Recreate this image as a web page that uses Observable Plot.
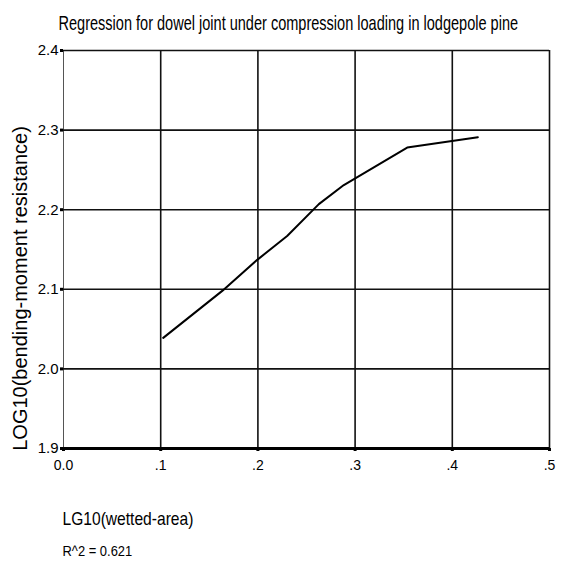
<!DOCTYPE html>
<html>
<head>
<meta charset="utf-8">
<script src="https://cdn.jsdelivr.net/npm/d3@7"></script>
<script src="https://cdn.jsdelivr.net/npm/@observablehq/plot@0.6"></script>
<style>
  html, body { margin: 0; padding: 0; background: white; }
</style>
</head>
<body>
<div id="chart"></div>
<script>
const titleText = "Regression for dowel joint under compression loading in lodgepole pine";
const yLabelText = "LOG10(bending-moment resistance)";
const xLabelText = "LG10(wetted-area)";
const r2Text = "R^2 = 0.621";

const xTicks = [0, 0.1, 0.2, 0.3, 0.4, 0.5];
const xTickLabels = ["0.0", ".1", ".2", ".3", ".4", ".5"];
const yTicks = [1.9, 2.0, 2.1, 2.2, 2.3, 2.4];
const yTickLabels = ["1.9", "2.0", "2.1", "2.2", "2.3", "2.4"];

// fitted regression curve
const fitX = [0.1026, 0.1633, 0.1993, 0.2301, 0.2627, 0.2884, 0.3536, 0.4263];
const fitY = [2.039, 2.098, 2.137, 2.167, 2.207, 2.231, 2.278, 2.291];

const fit = fitX.map((x, i) => ({x, y: fitY[i]}));

const chart = Plot.plot({
  width: 564,
  height: 565,
  marginLeft: 63,
  marginRight: 15,
  marginTop: 50,
  marginBottom: 117,
  style: {fontFamily: "'Liberation Sans', Arial, sans-serif", background: "white", color: "#000"},
  x: {domain: [0, 0.5]},
  y: {domain: [1.9, 2.4]},
  marks: [
    Plot.ruleX(xTicks.slice(1), {stroke: "#111", strokeWidth: 1.6}),
    Plot.ruleX([0], {stroke: "#555", strokeWidth: 1}),
    Plot.ruleY(yTicks.slice(1), {stroke: "#111", strokeWidth: 1.6}),
    Plot.ruleY([1.9], {stroke: "#000", strokeWidth: 3}),
    Plot.axisX(xTicks, {
      tickFormat: d => xTickLabels[xTicks.indexOf(d)],
      tickSize: 3, strokeWidth: 3, tickPadding: 9, fontSize: 14, label: null
    }),
    Plot.axisY(yTicks, {
      tickFormat: d => yTickLabels[yTicks.indexOf(d)],
      tickSize: 3, strokeWidth: 3, tickPadding: 2, fontSize: 15, label: null
    }),
    Plot.line(fit, {x: "x", y: "y", stroke: "#000", strokeWidth: 2}),
    Plot.text([titleText], {frameAnchor: "top-left", dx: -5, dy: -27, textAnchor: "start", lineAnchor: "middle", fontSize: 20, className: "ttl"}),
    Plot.text([yLabelText], {frameAnchor: "left", dx: -43, dy: 39, rotate: -90, textAnchor: "middle", lineAnchor: "middle", fontSize: 20, className: "ylab"}),
    Plot.text([xLabelText], {frameAnchor: "bottom-left", dx: -1, dy: 71, textAnchor: "start", lineAnchor: "middle", fontSize: 18, className: "xlab"}),
    Plot.text([r2Text], {frameAnchor: "bottom-left", dx: -1, dy: 103, textAnchor: "start", lineAnchor: "middle", fontSize: 14, className: "r2"})
  ]
});

document.getElementById("chart").appendChild(chart);

// horizontally condense start-anchored texts to the widths seen in the reference
const svgNS = "http://www.w3.org/2000/svg";
const condense = (cls, target) => {
  const g = chart.querySelector("g." + cls);
  if (!g) return;
  const txt = g.querySelector("text");
  if (!txt) return;
  const r = txt.getBoundingClientRect();
  const c = chart.getBoundingClientRect();
  if (!r.width) return;
  const k = Math.min(1, target / r.width);
  const px = r.left - c.left;
  const w = document.createElementNS(svgNS, "g");
  g.parentNode.insertBefore(w, g);
  w.appendChild(g);
  w.setAttribute("transform", `translate(${px},0) scale(${k},1) translate(${-px},0)`);
};
condense("ttl", 460);
condense("xlab", 131);
condense("r2", 70);
</script>
</body>
</html>
